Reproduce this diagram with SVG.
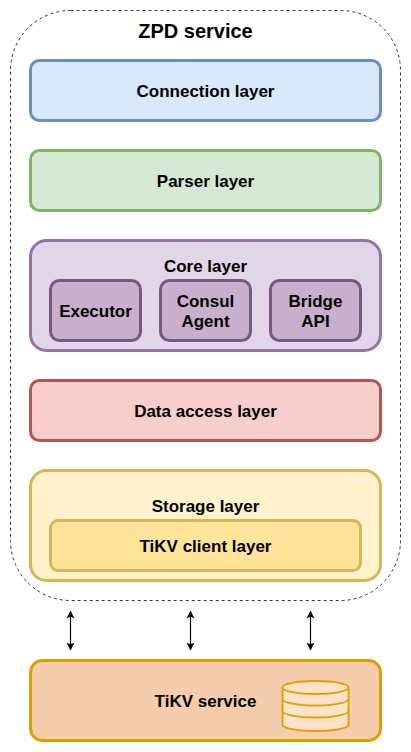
<svg xmlns="http://www.w3.org/2000/svg" width="411" height="752" viewBox="0 0 411 752">
<style>
text{font-family:"Liberation Sans",Arial,sans-serif;font-weight:bold;font-size:17px;text-anchor:middle;fill:#000}
.b{stroke-width:3}
.conn{stroke:#000;stroke-width:1.2;fill:none;marker-start:url(#a);marker-end:url(#a)}
</style>
<defs><marker id="a" viewBox="0 0 8 8" refX="7.500" refY="4" markerWidth="8" markerHeight="8" markerUnits="userSpaceOnUse" orient="auto-start-reverse"><path d="M0 0L8 4L0 8L2 4Z" fill="#000"/></marker></defs>
<rect width="411" height="752" fill="#fff"/>
<g id="zpd"><rect x="10.500" y="10.500" width="390" height="590" rx="60" fill="#fff" stroke="#000" stroke-width="0.8" stroke-dasharray="3 3"/><text x="195.500" y="37.500" style="font-size:20px">ZPD service</text></g>
<g id="connection"><rect class="b" x="30.500" y="60.500" width="350" height="60" rx="9" fill="#dae8fc" stroke="#6c8ebf"/><text x="205.500" y="96.500">Connection layer</text></g>
<g id="parser"><rect class="b" x="30.500" y="150.500" width="350" height="60" rx="9" fill="#d5e8d4" stroke="#82b366"/><text x="205.500" y="186.500">Parser layer</text></g>
<g id="core"><rect class="b" x="30.500" y="240.500" width="350" height="110" rx="16" fill="#e1d5e7" stroke="#9673a6"/><text x="205.500" y="271.500">Core layer</text></g>
<g id="executor"><rect class="b" x="50.500" y="280.500" width="90" height="60" rx="9" fill="#c8afcb" stroke="#745a7e"/><text x="95.500" y="316.500">Executor</text></g>
<g id="consul"><rect class="b" x="160.500" y="280.500" width="90" height="60" rx="9" fill="#c8afcb" stroke="#745a7e"/><text x="205.500" y="306.500">Consul</text><text x="205.500" y="326.500">Agent</text></g>
<g id="bridge"><rect class="b" x="270.500" y="280.500" width="90" height="60" rx="9" fill="#c8afcb" stroke="#745a7e"/><text x="315.500" y="306.500">Bridge</text><text x="315.500" y="326.500">API</text></g>
<g id="data"><rect class="b" x="30.500" y="380.500" width="350" height="60" rx="9" fill="#f8cecc" stroke="#b85450"/><text x="205.500" y="416.500">Data access layer</text></g>
<g id="storage"><rect class="b" x="30.500" y="470.500" width="350" height="110" rx="16" fill="#fff2cc" stroke="#d6b656"/><text x="205.500" y="511.500">Storage layer</text></g>
<g id="client"><rect class="b" x="50.500" y="520.500" width="310" height="50" rx="7.500" fill="#ffe599" stroke="#d6b656"/><text x="205.500" y="551.500">TiKV client layer</text></g>
<g id="connectors"><path class="conn" d="M70.500 611V650"/><path class="conn" d="M190.500 611V650"/><path class="conn" d="M310.500 611V650"/></g>
<g id="tikv"><rect class="b" x="30.500" y="660.500" width="350" height="80" rx="12" fill="#f5cdac" stroke="#dd9f00"/><text x="205.500" y="706.500">TiKV service</text></g>
<g id="db" fill="#ffe3c8" stroke="#dd9f00" stroke-width="1.800"><path d="M282.500 687.500C282.500 684 297 681 315.500 681S348.500 684 348.500 687.500V725C348.500 728 334 731 315.500 731S282.500 728 282.500 725Z"/><path fill="none" d="M282.500 687.500C282.500 691 297 694 315.500 694S348.500 691 348.500 687.500M282.500 699C282.500 702.500 297 705.500 315.500 705.500S348.500 702.500 348.500 699M282.500 711C282.500 714.500 297 717.500 315.500 717.500S348.500 714.500 348.500 711"/></g>
</svg>
